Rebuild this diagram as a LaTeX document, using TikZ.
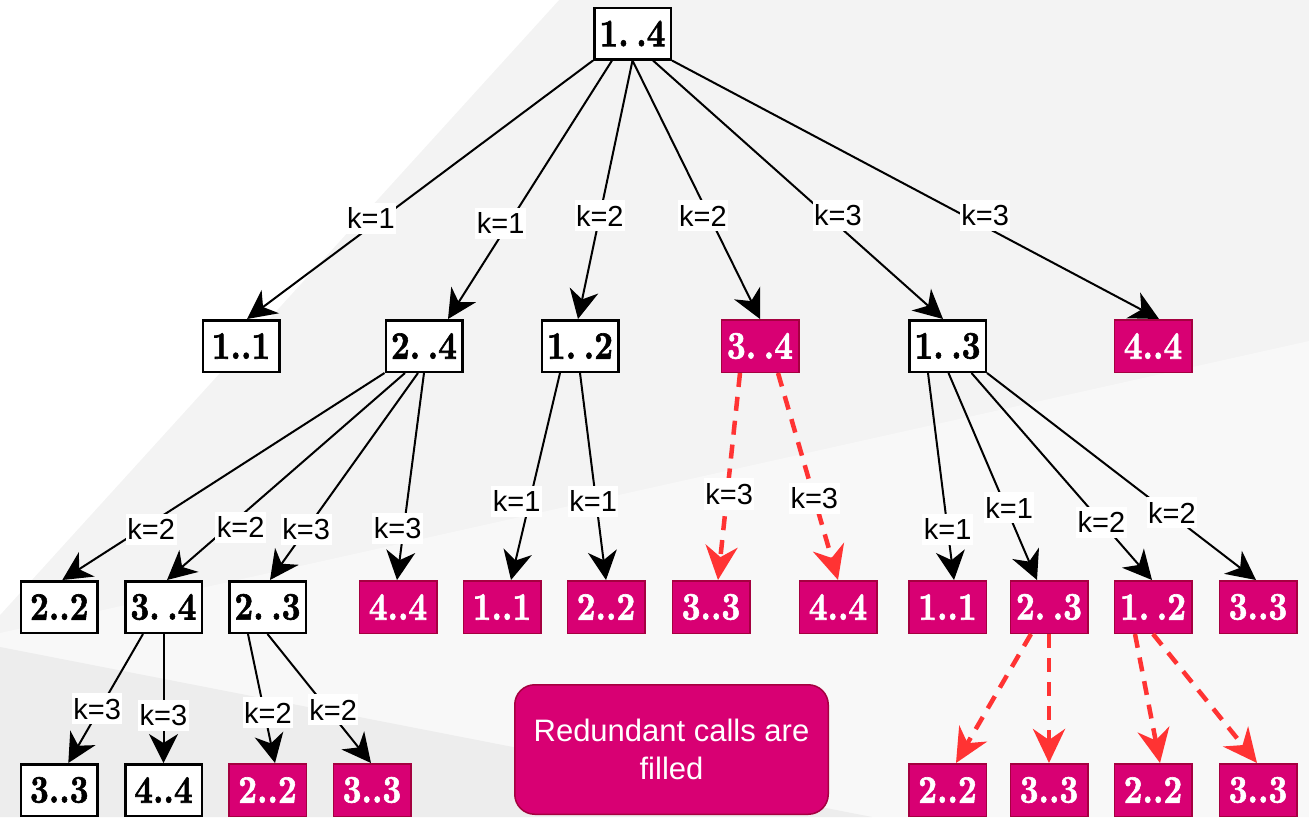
\documentclass[tikz,border=0pt]{standalone}
\usepackage{fontspec}
\usepackage{graphicx}
\usetikzlibrary{arrows.meta}
\newfontfamily\lblfamily{Liberation Sans}
\newfontfamily\boxfamily{lmroman10-bold.otf}[FakeBold=1.6]
\definecolor{mag}{HTML}{D80073}
\definecolor{magborder}{HTML}{A50040}
\definecolor{redc}{HTML}{FF3333}
\definecolor{bgmid}{HTML}{F3F3F3}
\definecolor{bglight}{HTML}{F8F8F8}
\definecolor{bgdark}{HTML}{EDEDED}
\newcommand{\rng}[1]{\scalebox{0.84}[1]{#1}}
\newcommand{\rgap}{\kern9pt}
\tikzset{
  boxfont/.style={font=\boxfamily\fontsize{39}{41}\selectfont},
  wbox/.style={boxfont, draw=black, line width=2.5pt, fill=white, text=black,
    minimum width=76.5pt, minimum height=51.5pt, inner sep=0pt},
  mbox/.style={boxfont, draw=magborder, line width=1.5pt, fill=mag, text=white,
    minimum width=77.5pt, minimum height=52.5pt, inner sep=0pt},
  edge/.style={draw=black, line width=2pt,
    -{Stealth[length=29pt,width=29pt,inset=9pt]}},
  redge/.style={draw=redc, line width=4.5pt, dash pattern=on 14pt off 10pt,
    -{Stealth[length=34pt,width=32pt,inset=11pt,fill=redc]}},
  lbl/.style={fill=white, text=black, font=\lblfamily\fontsize{29}{32}\selectfont,
    inner xsep=1.5pt, inner ysep=5pt},
  notebox/.style={draw=magborder, line width=1.5pt, fill=mag, text=white,
    rounded corners=20pt, align=center,
    font=\lblfamily\fontsize{31}{38}\selectfont}
}
\begin{document}
\begin{tikzpicture}[x=1pt,y=-1pt]
\useasboundingbox (0,0) rectangle (1309,817);
% background
\fill[bgmid] (0,0) rectangle (1309,817);
\fill[white] (0,0) -- (559,0) -- (0,615) -- cycle;
\fill[bglight] (0,633) -- (1309,341) -- (1309,817) -- (0,817) -- cycle;
\fill[bgdark] (0,647) -- (872,817) -- (0,817) -- cycle;

% row 0
\node[wbox] (n0) at (632.5,33.5) {\rng{1.\rgap.4}};
% row 1
\node[wbox] (a1) at (241,346) {\rng{1..1}};
\node[wbox] (a2) at (424,346) {\rng{2.\rgap.4}};
\node[wbox] (a3) at (580,346) {\rng{1.\rgap.2}};
\node[mbox] (a4) at (760,346) {\rng{3.\rgap.4}};
\node[wbox] (a5) at (947.5,346) {\rng{1.\rgap.3}};
\node[mbox] (a6) at (1153,346) {\rng{4..4}};
% row 2
\node[wbox] (b1) at (59.3,607) {\rng{2..2}};
\node[wbox] (b2) at (163.5,607) {\rng{3.\rgap.4}};
\node[wbox] (b3) at (267.5,607) {\rng{2.\rgap.3}};
\node[mbox] (b4) at (398,607) {\rng{4..4}};
\node[mbox] (b5) at (502,607) {\rng{1..1}};
\node[mbox] (b6) at (606,607) {\rng{2..2}};
\node[mbox] (b7) at (711,607) {\rng{3..3}};
\node[mbox] (b8) at (838,607) {\rng{4..4}};
\node[mbox] (b9) at (947.5,607) {\rng{1..1}};
\node[mbox] (b10) at (1049,607) {\rng{2.\rgap.3}};
\node[mbox] (b11) at (1153,607) {\rng{1.\rgap.2}};
\node[mbox] (b12) at (1258,607) {\rng{3..3}};
% row 3
\node[wbox] (c1) at (59.3,790) {\rng{3..3}};
\node[wbox] (c2) at (163.5,790) {\rng{4..4}};
\node[mbox] (c3) at (267.5,790) {\rng{2..2}};
\node[mbox] (c4) at (372,790) {\rng{3..3}};
\node[mbox] (c5) at (947.5,790) {\rng{2..2}};
\node[mbox] (c6) at (1049,790) {\rng{3..3}};
\node[mbox] (c7) at (1153,790) {\rng{2..2}};
\node[mbox] (c8) at (1258,790) {\rng{3..3}};
% note
\node[notebox, minimum width=313.5pt, minimum height=129.5pt] (note) at (671.5,749.5) {Redundant calls are\\filled};

% edges from root
\draw[edge] ([xshift=-39.5pt]n0.south) -- node[lbl,pos=0.61,xshift=-11pt]{k=1} ([xshift=6pt]a1.north);
\draw[edge] ([xshift=-20.5pt]n0.south) -- node[lbl,pos=0.63,xshift=-8pt]{k=1} ([xshift=24pt]a2.north);
\draw[edge] (n0.south) -- node[lbl,pos=0.60]{k=2} ([xshift=-2pt]a3.north);
\draw[edge] (n0.south) -- node[lbl,pos=0.60,xshift=-6pt]{k=2} (a4.north);
\draw[edge] ([xshift=20.5pt]n0.south) -- node[lbl,pos=0.60,xshift=11pt]{k=3} ([xshift=-4.5pt]a5.north);
\draw[edge] ([xshift=39.5pt]n0.south) -- node[lbl,pos=0.60,xshift=21pt]{k=3} ([xshift=6pt]a6.north);

% row 1 -> row 2
\draw[edge] ([xshift=-39.5pt]a2.south) -- node[lbl,pos=0.755,xshift=10pt]{k=2} ([xshift=3pt]b1.north);
\draw[edge] ([xshift=-19pt]a2.south) -- node[lbl,pos=0.745,xshift=13pt]{k=2} ([xshift=3.5pt]b2.north);
\draw[edge] ([xshift=-6pt]a2.south) -- node[lbl,pos=0.755]{k=3} ([xshift=2.5pt]b3.north);
\draw[edge] (a2.south) -- node[lbl,pos=0.75,xshift=-6pt]{k=3} ([xshift=-1pt]b4.north);
\draw[edge] ([xshift=-20pt]a3.south) -- node[lbl,pos=0.62,xshift=-13pt]{k=1} ([xshift=9pt]b5.north);
\draw[edge] (a3.south) -- node[lbl,pos=0.62,xshift=-3pt]{k=1} (b6.north);
\draw[redge] ([xshift=-20pt]a4.south) -- node[lbl,pos=0.585,xshift=2pt]{k=3} ([xshift=7pt]b7.north);
\draw[redge] ([xshift=18pt]a4.south) -- node[lbl,pos=0.605]{k=3} (b8.north);
\draw[edge] ([xshift=-19.5pt]a5.south) -- node[lbl,pos=0.754]{k=1} ([xshift=6.5pt]b9.north);
\draw[edge] ([xshift=1pt]a5.south) -- node[lbl,pos=0.652,xshift=3pt]{k=1} ([xshift=-12pt]b10.north);
\draw[edge] ([xshift=24pt]a5.south) -- node[lbl,pos=0.72]{k=2} ([xshift=-1pt]b11.north);
\draw[edge] ([xshift=39.5pt]a5.south) -- node[lbl,pos=0.676,xshift=3pt]{k=2} ([xshift=-2pt]b12.north);

% row 2 -> row 3
\draw[edge] ([xshift=-20.5pt]b2.south) -- node[lbl,pos=0.58,xshift=-2.5pt]{k=3} ([xshift=9pt]c1.north);
\draw[edge] (b2.south) -- node[lbl,pos=0.63]{k=3} (c2.north);
\draw[edge] ([xshift=-19.5pt]b3.south) -- node[lbl,pos=0.61,xshift=3.5pt]{k=2} ([xshift=7.5pt]c3.north);
\draw[edge] (b3.south) -- node[lbl,pos=0.586,xshift=5pt]{k=2} ([xshift=-1pt]c4.north);
\draw[redge] ([xshift=-18pt]b10.south) -- ([xshift=8.5pt]c5.north);
\draw[redge] (b10.south) -- (c6.north);
\draw[redge] ([xshift=-18pt]b11.south) -- ([xshift=7pt]c7.north);
\draw[redge] (b11.south) -- ([xshift=-1pt]c8.north);
\end{tikzpicture}
\end{document}
